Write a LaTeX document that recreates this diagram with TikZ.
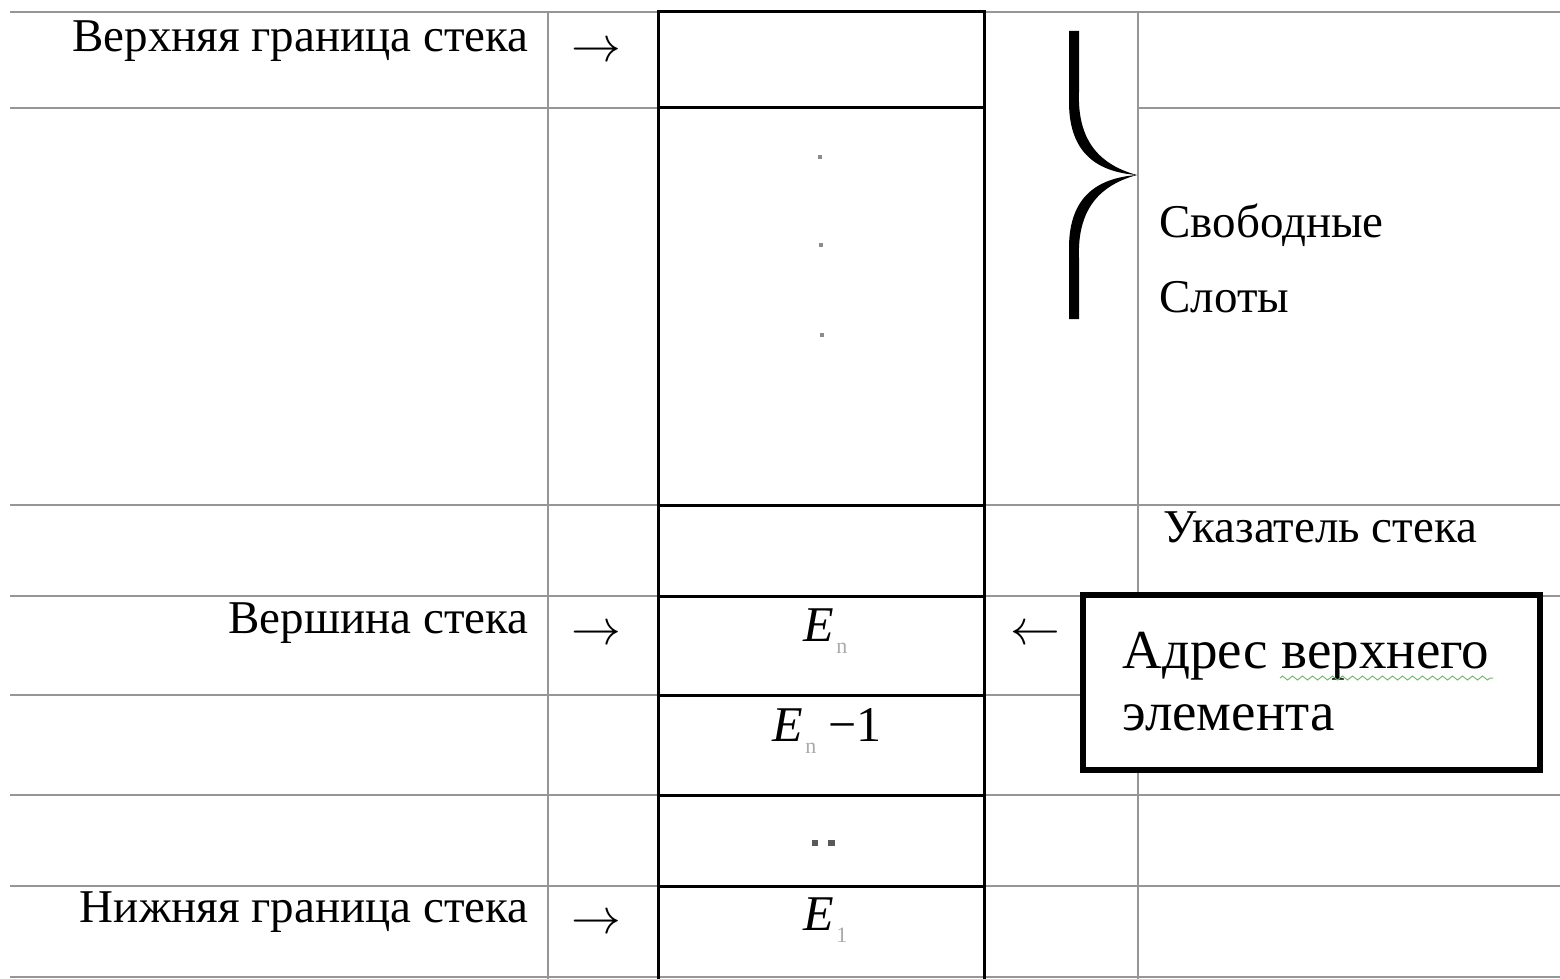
\documentclass[tikz,border=0pt]{standalone}
\usepackage{fontspec}
\setmainfont{Liberation Serif}
\usetikzlibrary{decorations.pathmorphing}
\definecolor{tablegray}{RGB}{150,150,150}
\definecolor{subgray}{RGB}{170,170,170}
\definecolor{dotgray}{RGB}{140,140,140}
\definecolor{spellgreen}{RGB}{110,190,110}
\begin{document}
\begin{tikzpicture}[x=0.5pt,y=-0.5pt,
  grid/.style={draw=tablegray, line width=1.1pt},
  cell/.style={draw=black, line width=1.5pt, minimum width=163pt, inner sep=0pt},
  lbl/.style={inner sep=0pt, font=\fontsize{23.5}{28}\selectfont},
  boxtext/.style={inner sep=0pt, font=\fontsize{27.5}{32}\selectfont},
  glyph/.style={inner sep=0pt, font=\fontsize{26}{30}\selectfont},
  elem/.style={inner sep=0pt, font=\fontsize{25}{30}\selectfont},
  sub/.style={inner sep=0pt, text=subgray, font=\fontsize{11}{13}\selectfont}]
\useasboundingbox (0,0) rectangle (1560,979);
\fill[white] (0,0) rectangle (1560,979);

% table rules
\foreach \y in {12,505,596,795,886,977}
  \draw[grid] (10,\y) -- (1560,\y);
\draw[grid] (10,695) -- (1083,695);
\draw[grid] (10,108) -- (658,108);
\draw[grid] (1138,108) -- (1560,108);
\draw[grid] (548,12) -- (548,979);
\draw[grid] (1138,12) -- (1138,979);

% stack slots
\node[cell, minimum height=48pt]   (s1) at (821,60)    {};
\node[cell, minimum height=198.5pt] (s2) at (821,306.5) {};
\node[cell, minimum height=45.5pt] (s3) at (821,550.5) {};
\node[cell, minimum height=49.5pt] (s4) at (821,645.5) {};
\node[cell, minimum height=50pt]   (s5) at (821,745)   {};
\node[cell, minimum height=45.5pt] (s6) at (821,840.5) {};
\node[cell, minimum height=49pt]   (s7) at (821,935)   {};

% free slot dots
\fill[dotgray] (818,155) rectangle (822,159);
\fill[dotgray] (819,243) rectangle (823,247);
\fill[dotgray] (820,333) rectangle (824,337);
\fill[black!65] (812,840) rectangle (818,846);
\fill[black!65] (828,840) rectangle (835,846);

% elements
\node[elem, anchor=base west] (en)  at (803,641) {\itshape E};
\node[sub,  anchor=base west] (enn) at (836,653) {n};
\node[elem, anchor=base west] (em)  at (772,741) {\itshape E};
\node[sub,  anchor=base west] (emn) at (805,753) {n};
\node[elem, anchor=base west] (emk) at (828,741) {−1};
\node[elem, anchor=base west] (e1)  at (803,930) {\itshape E};
\node[sub,  anchor=base west] (e1n) at (836,942) {1};

% left labels and arrows
\node[lbl, anchor=base east] (upper) at (529,52)  {Верхняя граница стека};
\node[lbl, anchor=base east] (top)   at (529,633) {Вершина стека};
\node[lbl, anchor=base east] (lower) at (529,922) {Нижняя граница стека};
\node[glyph] (ar1) at (596,52)  {$\rightarrow$};
\node[glyph] (ar2) at (596,635) {$\rightarrow$};
\node[glyph] (ar3) at (596,924) {$\rightarrow$};

% brace over the free slots: thick stems tapering into a point
\fill[black]
  (1069,31) -- (1069,102)
  .. controls (1069,154) and (1098,172) .. (1137,175)
  .. controls (1098,178) and (1069,196) .. (1069,248)
  -- (1069,319) -- (1079,319) -- (1079,258)
  .. controls (1077,205) and (1104,184) .. (1137,175)
  .. controls (1104,166) and (1077,145) .. (1079,92)
  -- (1079,31) -- cycle;

% right labels
\node[lbl, anchor=base west] (free1) at (1159,237) {Свободные};
\node[lbl, anchor=base west] (free2) at (1159,312) {Слоты};
\node[lbl, anchor=base west] (sp)    at (1163,542) {Указатель стека};

% address box
\node[draw=black, line width=3.2pt, fill=white, minimum width=228.5pt,
      minimum height=87.5pt, inner sep=0pt] (addr) at (1311.5,682.5) {};
\node[boxtext, anchor=base west] (addr1) at (1122,668) {Адрес верхнего};
\node[boxtext, anchor=base west] (addr2) at (1122,730) {элемента};
\draw[draw=spellgreen, line width=0.5pt, decorate,
      decoration={zigzag, segment length=5pt, amplitude=1pt}]
  (1280,678) -- (1493,678);
\node[glyph] (al) at (1035,635) {$\leftarrow$};
\end{tikzpicture}
\end{document}
